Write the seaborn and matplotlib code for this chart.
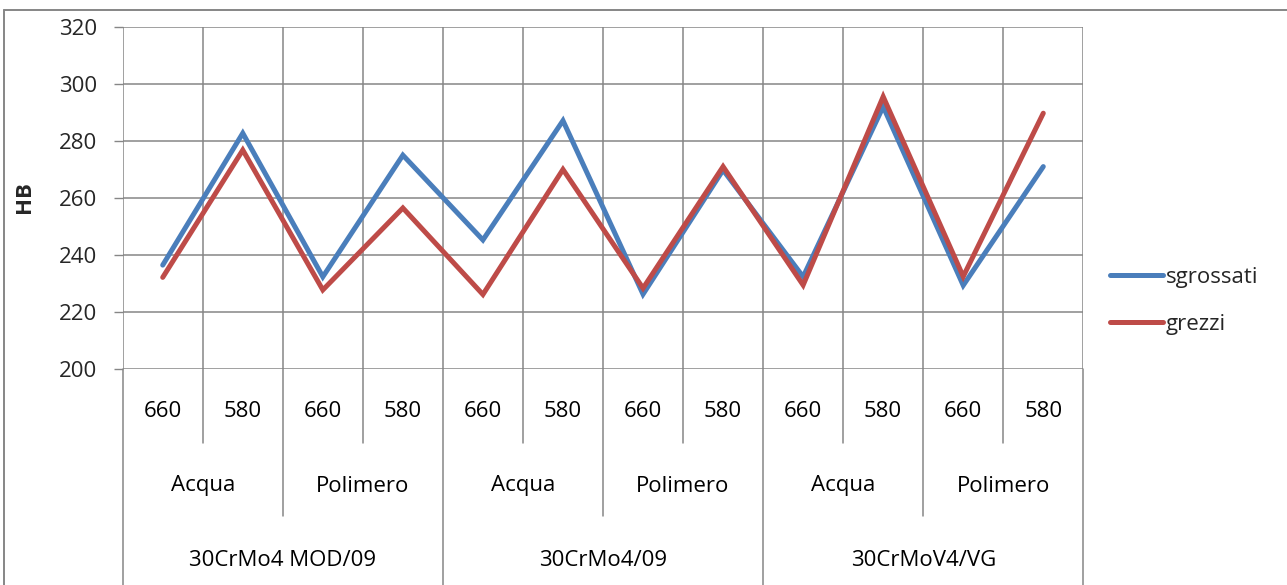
import numpy as np
import pandas as pd
import matplotlib
matplotlib.use("Agg")
import matplotlib.pyplot as plt
import matplotlib.transforms as mtransforms
from matplotlib.lines import Line2D
import seaborn as sns

# Hardness (HB) per steel / quench medium / tempering temperature
steels = ["30CrMo4 MOD/09", "30CrMo4/09", "30CrMoV4/VG"]
media = ["Acqua", "Polimero"]
temps = ["660", "580"]
sgrossati = [236.5, 282.7, 232.4, 275.0, 245.3, 287.1, 226.3, 269.8, 232.4, 292.0, 229.4, 271.0]
grezzi = [232.2, 276.8, 227.8, 256.5, 226.2, 270.0, 228.4, 271.0, 229.5, 295.5, 232.5, 289.7]
y_ticks = [200, 220, 240, 260, 280, 300, 320]

n = len(sgrossati)
pos = np.arange(n)
df = pd.DataFrame({
    "pos": np.concatenate([pos, pos]),
    "HB": sgrossati + grezzi,
    "serie": ["sgrossati"] * n + ["grezzi"] * n,
})

sns.set_theme(style="white")
plt.rcParams["font.family"] = ["Open Sans", "DejaVu Sans"]

BLUE = "#4A7EBB"
RED = "#BE4B48"
GRID = "#868686"
FS = 16

fig = plt.figure(figsize=(12.87, 5.85), dpi=100)
ax = fig.add_axes([122.7 / 1287, 215.7 / 585, (1083.3 - 122.7) / 1287, (369.3 - 26.7) / 585])

sns.lineplot(data=df, x="pos", y="HB", hue="serie", palette={"sgrossati": BLUE, "grezzi": RED},
             linewidth=3.6, ax=ax, legend=False, sort=False)
for l in ax.lines:
    l.set_solid_capstyle("round")
    l.set_solid_joinstyle("miter")

ax.set_xlim(-0.5, n - 0.5)
ax.set_ylim(200, 320)
ax.set_yticks(y_ticks)
ax.set_yticklabels([str(v) for v in y_ticks], fontsize=FS)
ax.tick_params(axis="y", length=6.5, width=1, color=GRID, pad=12, left=True)
ax.set_xticks([])
ax.set_xlabel("")
ax.set_ylabel("HB", fontsize=FS, fontweight="bold")
ax.yaxis.set_label_coords((25 - 122.7) / (1083.3 - 122.7), (369.3 - 197) / (369.3 - 26.7))
ax.yaxis.label.set_va("center")

# Grid: horizontal at every tick, vertical at every category boundary
for v in y_ticks:
    ax.axhline(v, color=GRID, lw=1.1, zorder=0)
for b in np.arange(n + 1) - 0.5:
    ax.axvline(b, color=GRID, lw=1.1, zorder=0)
for s in ax.spines.values():
    s.set_visible(False)

# Multi-level category axis below the plot
trans = mtransforms.blended_transform_factory(ax.transData, ax.transAxes)
px = 1.0 / ((369.3 - 26.7))  # one pixel in axes fraction (vertical)
y_lvl1_end = -(442.7 - 369.3) * px
y_lvl2_end = -(516.0 - 369.3) * px
y_lvl3_end = -(590.0 - 369.3) * px
y_t1 = -(411.5 - 369.3) * px
y_t2 = -(486.0 - 369.3) * px
y_t3 = -(560.0 - 369.3) * px

kw = dict(transform=trans, ha="center", va="center", fontsize=FS, color="black", clip_on=False)
for i in range(n):
    ax.text(pos[i], y_t1, temps[i % len(temps)], **kw)
per_medium = len(temps)
for j in range(n // per_medium):
    c = j * per_medium + (per_medium - 1) / 2
    ax.text(c, y_t2, media[j % len(media)], **kw)
per_steel = len(temps) * len(media)
for k in range(len(steels)):
    c = k * per_steel + (per_steel - 1) / 2
    ax.text(c, y_t3, steels[k], **kw)

for b in range(n + 1):
    x = b - 0.5
    if b % per_steel == 0:
        y_end = y_lvl3_end
    elif b % per_medium == 0:
        y_end = y_lvl2_end
    else:
        y_end = y_lvl1_end
    ax.add_line(Line2D([x, x], [0, y_end], transform=trans, color=GRID, lw=1.1, clip_on=False))

# Legend
handles = [Line2D([], [], color=BLUE, lw=3.6, solid_capstyle="round"),
           Line2D([], [], color=RED, lw=3.6, solid_capstyle="round")]
fig.legend(handles, ["sgrossati", "grezzi"], loc="center left",
           bbox_to_anchor=(1099 / 1287, 1 - 301 / 585), frameon=False, fontsize=FS,
           handlelength=2.4, handletextpad=0.1, labelspacing=1.15, borderpad=0)

# Chart-area border (top and left edges)
fig.add_artist(Line2D([4 / 1287, 1.0], [1 - 10 / 585, 1 - 10 / 585], transform=fig.transFigure, color=GRID, lw=1.4))
fig.add_artist(Line2D([4 / 1287, 4 / 1287], [0, 1 - 10 / 585], transform=fig.transFigure, color=GRID, lw=1.4))

fig.savefig("out.png", dpi=100, facecolor="white")
